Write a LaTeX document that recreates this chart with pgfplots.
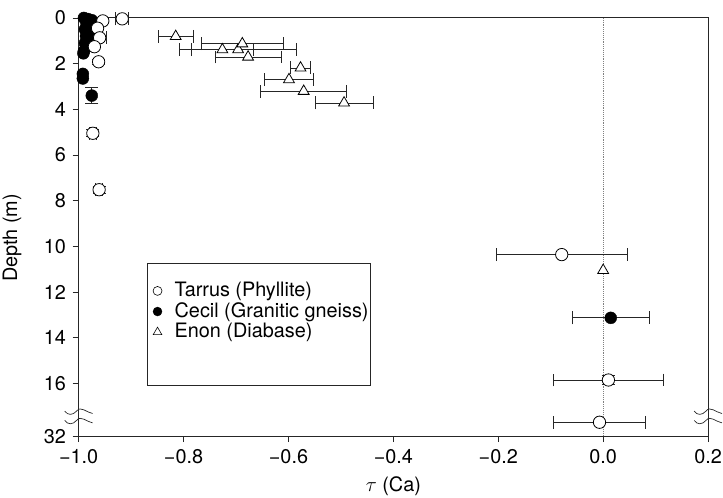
\documentclass[border=0pt]{standalone}
\usepackage{pgfplots}
\pgfplotsset{compat=1.18}
\usepackage{pgfplotstable}
\usepackage{fontspec}
\setmainfont{TeX Gyre Heros}

\pgfplotstableread{
x y
-0.917 0.04
-0.954 0.13
-0.964 0.45
-0.960 0.87
-0.970 1.26
-0.962 1.92
-0.973 5.05
-0.961 7.52
-0.079 10.36
0.010 15.85
-0.007 17.70
}\tarrus
\pgfplotstableread{
x y ex
-0.917 0.04 0.0127
-0.960 0.87 0.012
-0.973 5.05 0.007
-0.961 7.52 0.007
-0.079 10.36 0.125
0.010 15.85 0.104
-0.007 17.70 0.0876
}\tarrusex
\pgfplotstableread{
x y ey
-0.962 1.92 0.12
-0.973 5.05 0.15
-0.961 7.52 0.15
0.010 15.85 0.2
}\tarrusey

\pgfplotstableread{
x y
-0.990 0.00
-0.982 0.05
-0.975 0.10
-0.985 0.25
-0.978 0.35
-0.988 0.50
-0.982 0.62
-0.986 0.80
-0.980 0.95
-0.988 1.10
-0.984 1.25
-0.990 1.45
-0.991 1.55
-0.992 2.45
-0.992 2.65
-0.975 3.40
0.0145 13.13
}\cecil
\pgfplotstableread{
x y ex
0.0145 13.13 0.073
}\cecilex
\pgfplotstableread{
x y ey
-0.975 3.40 0.35
}\ceciley

\pgfplotstableread{
x y
-0.815 0.81
-0.726 1.39
-0.696 1.39
-0.688 1.13
-0.677 1.71
-0.577 2.19
-0.599 2.70
-0.571 3.21
-0.494 3.72
0.000 11.05
}\enon
\pgfplotstableread{
x y ex
-0.815 0.81 0.033
-0.726 1.39 0.0585
-0.696 1.39 0.112
-0.688 1.13 0.078
-0.677 1.71 0.063
-0.577 2.19 0.0196
-0.599 2.70 0.046
-0.571 3.21 0.082
-0.494 3.72 0.055
}\enonex

\newcommand{\brk}[1]{\draw[line width=0.7pt, black!85] ([xshift=-14bp,yshift=0.5bp]#1) .. controls +(3bp,-4.5bp) and +(-4bp,-4.5bp) .. ([xshift=-2bp,yshift=0.5bp]#1) .. controls +(4bp,5.5bp) and +(-6bp,1bp) .. ([xshift=14bp,yshift=-2bp]#1);}

\begin{document}
\fontsize{20}{24}\selectfont
\begin{tikzpicture}
\begin{axis}[
  scale only axis, width=632bp, height=420bp,
  xmin=-1, xmax=0.2, ymin=0, ymax=18.31, y dir=reverse,
  xtick={-1,-0.8,-0.6,-0.4,-0.2,0,0.2},
  xticklabels={−1.0,−0.8,−0.6,−0.4,−0.2,0.0,0.2},
  ytick={0,2,4,6,8,10,12,14,16,18.31},
  yticklabels={0,2,4,6,8,10,12,14,16,32},
  tick align=outside, xtick pos=bottom, ytick pos=left,
  major tick length=6bp,
  tick style={black!85, line width=0.8pt},
  axis line style={line width=1pt, black!85},
  clip=false,
  font=\fontsize{20}{24}\selectfont,
  xlabel={$\tau$ (Ca)}, ylabel={Depth (m)},
  xlabel style={at={(axis description cs:0.5,-0.119)}, anchor=center},
  ylabel style={at={(axis description cs:-0.106,0.474)}, anchor=center},
  legend style={draw=none, fill=none, at={(axis description cs:0.112,0.371)}, anchor=north west,
    inner sep=0pt, row sep=1bp, nodes={inner sep=1bp}, font=\fontsize{20}{24}\selectfont},
  legend cell align=left,
  legend image code/.code={\path (0bp,0bp) (24bp,0bp); \draw[#1] plot coordinates {(8bp,0bp)};},
  error bars/error bar style={line width=0.8pt, black!85},
  error bars/error mark options={line width=0.8pt, black!85, mark size=6.5bp, rotate=90},
]
\addplot[forget plot, gray, densely dotted, line width=0.9pt] coordinates {(0,0) (0,18.31)};

\addplot[forget plot, only marks, mark=none, error bars/.cd, x dir=both, x explicit] table[x=x, y=y, x error=ex] \enonex;
\addplot[forget plot, only marks, mark=none, error bars/.cd, x dir=both, x explicit] table[x=x, y=y, x error=ex] \tarrusex;
\addplot[forget plot, only marks, mark=none, error bars/.cd, y dir=both, y explicit] table[x=x, y=y, y error=ey] \tarrusey;
\addplot[forget plot, only marks, mark=none, error bars/.cd, x dir=both, x explicit] table[x=x, y=y, x error=ex] \cecilex;
\addplot[forget plot, only marks, mark=none, error bars/.cd, y dir=both, y explicit] table[x=x, y=y, y error=ey] \ceciley;

\addplot[forget plot, only marks, mark=triangle*, mark size=6.3bp, mark options={fill=white, draw=black, line width=0.8pt}] table[x=x, y=y] \enon;
\addplot[forget plot, only marks, mark=*, mark size=6bp, mark options={fill=black, draw=black}] table[x=x, y=y] \cecil;
\addplot[forget plot, only marks, mark=*, mark size=6.2bp, mark options={fill=white, draw=black, line width=0.8pt}] table[x=x, y=y] \tarrus;

\addlegendimage{only marks, mark=*, mark size=4.5bp, mark options={fill=white, draw=black, line width=0.6pt}}
\addlegendentry{Tarrus (Phyllite)}
\addlegendimage{only marks, mark=*, mark size=4.5bp, mark options={fill=black, draw=black}}
\addlegendentry{Cecil (Granitic gneiss)}
\addlegendimage{only marks, mark=triangle*, mark size=5bp, mark options={fill=white, draw=black, line width=0.6pt}}
\addlegendentry{Enon (Diabase)}

\draw[line width=0.9pt, black!85] (axis description cs:0.109,0.414) rectangle (axis description cs:0.463,0.121);

\coordinate (bl1) at (axis cs:-1,17.23);
\coordinate (bl2) at (axis cs:-1,17.64);
\coordinate (br1) at (axis cs:0.2,17.23);
\coordinate (br2) at (axis cs:0.2,17.64);
\coordinate (tl) at (axis description cs:0,1);
\end{axis}
\brk{bl1}
\brk{bl2}
\brk{br1}
\brk{br2}
\pgfresetboundingbox
\path ([shift={(-79bp,18bp)}]tl) rectangle ([shift={(647bp,-482bp)}]tl);
\end{tikzpicture}
\end{document}
